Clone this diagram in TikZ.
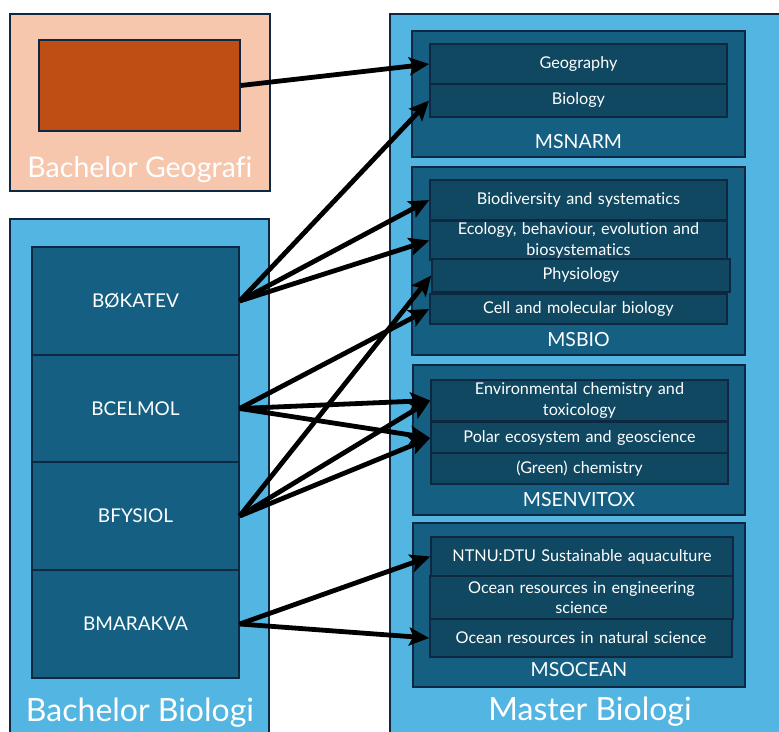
\documentclass[tikz,border=0pt]{standalone}
\usepackage{fontspec}
\setmainfont{Lato}[Ligatures=NoCommon]
\usepackage{tikz}
\usetikzlibrary{arrows.meta}
\definecolor{peach}{HTML}{F6C6AD}
\definecolor{rust}{HTML}{BF4E14}
\definecolor{sky}{HTML}{53B5E2}
\definecolor{progcol}{HTML}{156082}
\definecolor{itemcol}{HTML}{104862}
\definecolor{rim}{HTML}{0E2841}

\begin{document}
\begin{tikzpicture}[x=1pt,y=-1pt,
  outer/.style={draw=rim,line width=1.2pt,inner sep=0pt},
  prog/.style={draw=rim,line width=1.4pt,fill=progcol,inner sep=0pt,minimum width=333pt},
  cell/.style={draw=rim,line width=1.4pt,fill=progcol,inner sep=0pt,minimum width=207pt,
    text=white,font=\fontsize{19}{22}\selectfont},
  item/.style={draw=rim,line width=1.6pt,fill=itemcol,inner sep=0pt,minimum width=297pt,
    text width=294pt,align=center,text=white,font=\fontsize{16.2}{20.5}\selectfont},
  big/.style={anchor=base,text=white,font=\fontsize{32}{36}\selectfont},
  mid/.style={anchor=base,text=white,font=\fontsize{19.5}{22}\selectfont},
  arr/.style={->,>={Stealth[length=20pt,width=18pt,inset=4pt]},line width=4.8pt}]
\useasboundingbox (0,0) rectangle (779,731);

% bachelor geografi
\node[outer,fill=peach,minimum width=260pt,minimum height=177pt] (geo) at (140,102.5) {};
\node[draw=rim,line width=1.4pt,fill=rust,minimum width=201pt,minimum height=91pt] (geobox) at (139.5,85.5) {};
\node[big,font=\fontsize{28.5}{32}\selectfont] (geolbl) at (140,177) {Bachelor Geografi};

% bachelor biologi
\node[outer,fill=sky,minimum width=259pt,minimum height=518pt] (bio) at (139.5,478) {};
\node[cell,minimum height=108pt] (bok) at (135.5,301) {BØKATEV};
\node[cell,minimum height=107pt] (bcel) at (135.5,408.5) {BCELMOL};
\node[cell,minimum height=108pt] (bfys) at (135.5,516) {BFYSIOL};
\node[cell,minimum height=108pt] (bmar) at (135.5,624) {BMARAKVA};
\node[big] (biolbl) at (140,721) {Bachelor Biologi};

% master biologi
\node[outer,fill=sky,minimum width=397pt,minimum height=723pt] (mas) at (588.5,375.5) {};

\node[prog,minimum height=126pt] (narm) at (578.5,94) {};
\node[item,minimum height=40pt] (narm1) at (578.5,64) {Geography};
\node[item,minimum height=33pt] (narm2) at (578.5,100.5) {Biology};
\node[mid] (narmlbl) at (578.5,148) {MSNARM};

\node[prog,minimum height=188pt] (msbio) at (578.5,261) {};
\node[item,minimum height=40pt] (bio1) at (578.5,200) {Biodiversity and systematics};
\node[item,minimum height=39pt] (bio2) at (578.5,240.5) {Ecology, behaviour, evolution and\\biosystematics};
\node[item,minimum height=33pt,minimum width=298pt] (bio3) at (581,275.5) {Physiology};
\node[item,minimum height=30pt] (bio4) at (578.5,309) {Cell and molecular biology};
\node[mid] (msbiolbl) at (578.5,346) {MSBIO};

\node[prog,minimum height=150pt,minimum width=332pt] (envi) at (579,440) {};
\node[item,minimum height=41pt] (envi1) at (579.5,400.5) {Environmental chemistry and\\toxicology};
\node[item,minimum height=31pt] (envi2) at (579.5,438) {Polar ecosystem and geoscience};
\node[item,minimum height=31pt] (envi3) at (579.5,468.5) {(Green) chemistry};
\node[mid] (envilbl) at (579,506) {MSENVITOX};

\node[prog,minimum height=164pt,minimum width=332pt] (ocean) at (579,605) {};
\node[item,minimum height=39pt,minimum width=302pt] (ocean1) at (582,556.5) {NTNU:DTU Sustainable aquaculture};
\node[item,minimum height=43pt,minimum width=303pt] (ocean2) at (581.5,597.5) {Ocean resources in engineering\\science};
\node[item,minimum height=38pt,minimum width=302pt] (ocean3) at (581,638) {Ocean resources in natural science};
\node[mid] (oceanlbl) at (579,676) {MSOCEAN};

\node[big] (maslbl) at (590,720) {Master Biologi};

% arrows
\draw (geobox.east) edge[arr] (narm1.west);
\draw (bok.east) edge[arr] (narm2.west);
\draw (bok.east) edge[arr] (bio1.west);
\draw (bok.east) edge[arr] (bio2.west);
\draw (bcel.east) edge[arr] (bio4.west);
\draw (bcel.east) edge[arr] (envi1.west);
\draw (bcel.east) edge[arr] (envi2.west);
\draw (bfys.east) edge[arr] (bio3.west);
\draw (bfys.east) edge[arr] (envi1.west);
\draw (bfys.east) edge[arr] (envi2.west);
\draw (bmar.east) edge[arr] (ocean1.west);
\draw (bmar.east) edge[arr] (ocean3.west);

\end{tikzpicture}
\end{document}
